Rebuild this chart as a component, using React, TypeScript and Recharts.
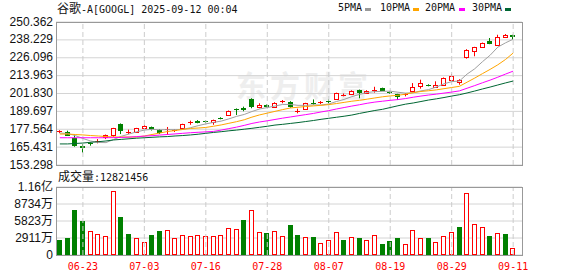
import React from "react"
import {
	ComposedChart,
	Bar,
	Line,
	XAxis,
	YAxis,
	CartesianGrid,
	ReferenceLine,
} from "recharts"

const RED = "#ff0000"
const GREEN = "#008000"
const GRID = "#d4d4d4"
const BORDER = "#999999"

const dates = [
	"06-17", "06-18", "06-20", "06-23", "06-24", "06-25", "06-26", "06-27", "06-30", "07-01",
	"07-02", "07-03", "07-07", "07-08", "07-09", "07-10", "07-11", "07-14", "07-15", "07-16",
	"07-17", "07-18", "07-21", "07-22", "07-23", "07-24", "07-25", "07-28", "07-29", "07-30",
	"07-31", "08-01", "08-04", "08-05", "08-06", "08-07", "08-08", "08-11", "08-12", "08-13",
	"08-14", "08-15", "08-18", "08-19", "08-20", "08-21", "08-22", "08-25", "08-26", "08-27",
	"08-28", "08-29", "09-02", "09-03", "09-04", "09-05", "09-08", "09-09", "09-10", "09-11",
]

const opens = [
	175.8, 175.9, 171.8, 166.4, 168.0, 168.7, 172.5, 173.7, 181.1, 174.8,
	175.9, 178.6, 178.9, 177.1, 176.9, 176.4, 178.2, 181.8, 183.4, 182.9,
	182.3, 185.2, 187.2, 191.5, 191.8, 197.9, 192.9, 194.0, 192.9, 196.1,
	196.3, 189.8, 191.3, 195.2, 195.4, 196.9, 198.1, 200.6, 201.5, 204.2,
	202.4, 203.9, 205.4, 203.0, 201.3, 200.8, 203.3, 206.7, 207.6, 206.4,
	207.8, 211.2, 209.4, 226.4, 230.9, 233.4, 237.3, 234.9, 240.5, 241.2,
]
const highs = [
	176.9, 176.6, 173.7, 167.5, 168.7, 170.9, 174.0, 178.5, 181.5, 177.3,
	178.5, 180.2, 179.4, 177.6, 179.1, 177.7, 181.3, 183.4, 183.8, 183.6,
	184.1, 185.7, 190.3, 191.7, 192.9, 198.6, 195.2, 194.4, 195.9, 197.4,
	196.6, 191.5, 195.5, 197.8, 196.7, 197.9, 202.4, 201.8, 204.0, 204.5,
	204.1, 206.4, 205.8, 203.3, 201.6, 202.0, 208.9, 211.2, 208.1, 210.1,
	212.7, 215.1, 211.5, 231.9, 233.5, 236.4, 239.5, 241.7, 242.2, 241.7,
]
const lows = [
	174.9, 173.0, 165.7, 161.6, 166.4, 168.0, 170.9, 172.5, 174.3, 174.3,
	175.5, 178.3, 176.7, 174.3, 173.7, 175.7, 177.8, 180.6, 181.6, 181.8,
	180.6, 184.3, 186.9, 187.2, 189.8, 191.8, 191.8, 192.5, 192.6, 195.2,
	192.2, 188.4, 190.9, 194.3, 194.7, 195.2, 197.9, 199.9, 201.2, 198.6,
	202.1, 202.4, 203.4, 201.7, 197.4, 199.9, 202.9, 205.1, 206.7, 206.2,
	207.5, 210.9, 207.8, 225.5, 227.1, 233.1, 235.3, 234.6, 239.5, 238.3,
]
const closes = [
	176.1, 173.2, 166.4, 165.0, 167.3, 169.6, 173.7, 178.2, 176.6, 175.9,
	178.2, 179.8, 177.5, 174.8, 177.5, 177.1, 180.9, 182.5, 182.0, 182.5,
	183.8, 184.7, 190.0, 190.6, 190.6, 192.9, 194.0, 192.9, 195.6, 196.7,
	192.5, 190.2, 195.2, 194.5, 195.9, 196.3, 202.0, 201.0, 203.7, 202.0,
	203.7, 204.5, 203.7, 202.0, 199.3, 201.3, 206.0, 208.9, 207.1, 207.6,
	212.4, 213.5, 211.2, 231.6, 233.2, 236.1, 235.6, 240.0, 241.2, 240.5,
]

const ma5 = [
	175.0, 174.7, 173.3, 171.3, 169.6, 168.6, 168.5, 170.6, 172.8, 174.3,
	175.8, 177.0, 177.5, 177.2, 177.3, 177.3, 177.5, 178.6, 180.0, 181.2,
	182.2, 183.1, 184.6, 186.3, 187.6, 189.6, 191.3, 192.3, 193.3, 194.4,
	194.4, 193.8, 193.8, 194.1, 194.0, 194.7, 196.4, 197.8, 199.7, 201.2,
	202.5, 203.1, 203.3, 203.4, 202.7, 202.1, 202.4, 203.6, 204.5, 206.2,
	208.4, 209.9, 210.3, 215.0, 218.6, 223.4, 227.8, 233.3, 236.2, 238.7,
]
const ma10 = [
	174.3, 174.3, 174.0, 173.7, 173.3, 173.0, 172.6, 172.3, 172.3, 172.3,
	172.3, 173.0, 174.0, 175.0, 176.0, 176.7, 177.4, 178.1, 178.4, 178.8,
	179.6, 180.5, 181.6, 182.7, 184.0, 185.8, 187.3, 188.5, 189.7, 190.9,
	192.0, 192.5, 193.0, 193.4, 193.8, 194.3, 195.0, 195.8, 196.6, 197.2,
	198.0, 198.8, 199.6, 200.2, 200.6, 201.4, 202.4, 203.2, 203.7, 204.3,
	205.1, 205.9, 206.7, 209.5, 212.3, 215.3, 218.2, 221.3, 224.9, 229.3,
]
const ma20 = [
	171.8, 171.8, 171.8, 171.8, 171.8, 171.8, 171.8, 171.9, 172.0, 172.2,
	172.6, 172.9, 173.2, 173.6, 174.0, 174.4, 174.8, 175.2, 175.5, 175.8,
	176.1, 177.0, 178.0, 179.0, 180.2, 181.5, 182.5, 183.3, 184.2, 185.1,
	185.9, 186.7, 187.5, 188.3, 189.3, 190.2, 191.3, 192.3, 193.3, 194.2,
	195.2, 196.0, 196.6, 197.2, 197.7, 198.4, 199.3, 200.1, 200.8, 201.4,
	202.1, 202.8, 203.6, 205.4, 207.2, 209.1, 210.9, 212.9, 215.0, 217.0,
]
const ma30 = [
	167.6, 167.6, 167.9, 168.2, 168.7, 169.1, 169.6, 170.3, 170.7, 171.1,
	171.5, 171.8, 172.1, 172.4, 172.6, 173.0, 173.3, 173.7, 174.2, 174.8,
	175.4, 175.9, 176.5, 177.0, 177.6, 178.2, 178.9, 179.6, 180.4, 180.9,
	181.5, 182.1, 182.8, 183.5, 184.3, 185.0, 185.7, 186.4, 187.2, 188.3,
	189.3, 190.3, 191.1, 192.3, 193.5, 194.6, 195.4, 196.4, 197.4, 198.2,
	199.1, 200.1, 201.0, 202.2, 203.5, 204.9, 206.2, 207.6, 209.0, 210.3,
]

// 成交量, 单位: 万
const volumes = [
	2570, 2960, 7710, 5820, 4050, 3540, 3250, 10960, 6510, 3600,
	2910, 2230, 3430, 4110, 4280, 2910, 3430, 3250, 3430, 3250,
	3250, 3430, 4680, 4450, 6000, 7710, 3880, 3710, 4050, 3250,
	5140, 3430, 3030, 3080, 2000, 2510, 3880, 2570, 3030, 2910,
	2510, 3370, 1880, 2400, 2910, 1830, 4230, 2860, 2910, 2170,
	3250, 3880, 4800, 10560, 5250, 4800, 3250, 3710, 3600, 1282.1456,
]
const volColors = "GGGGRRRRGGRRGGRRRRRRRRRRGRRGRRGGRGRRRGRGRRGGGRRRGRRRGRRRGRGR"

const tickDates = ["06-23", "07-03", "07-16", "07-28", "08-07", "08-19", "08-29", "09-11"]
const priceTicks = [153.298, 165.431, 177.564, 189.697, 201.83, 213.963, 226.096, 238.229, 250.362]
const volTicks = [0, 2911, 5823, 8734, 11646]

const legendItems = [
	{ name: "5PMA", color: "#999999", x: 338, sw: 365 },
	{ name: "10PMA", color: "#ffa500", x: 380, sw: 413 },
	{ name: "20PMA", color: "#ff00ff", x: 425, sw: 459 },
	{ name: "30PMA", color: "#006633", x: 472, sw: 505 },
]

const data = dates.map((date, i) => ({
	date,
	open: opens[i],
	high: highs[i],
	low: lows[i],
	close: closes[i],
	range: [lows[i], highs[i]],
	ma5: ma5[i],
	ma10: ma10[i],
	ma20: ma20[i],
	ma30: ma30[i],
	vol: volumes[i],
	volUp: volColors[i] === "R",
}))

const MONO = "'DejaVu Sans Mono', monospace"
const CJK = "'Noto Sans CJK SC', sans-serif"
const SANS = "'Liberation Sans', 'Noto Sans CJK SC', sans-serif"

const Candle = (props: any) => {
	const { x, y, width, height, payload } = props
	if (x == null || y == null || !payload) return null
	const { open, close, high, low } = payload
	const top = Math.min(y, y + height)
	const h = Math.abs(height)
	const k = high > low ? h / (high - low) : 0
	const py = (v: number) => top + (high - v) * k
	const up = close >= open
	const left = Math.round(x + width / 2 - 2.5)
	const cx = left + 2.5
	const bTop = Math.round(py(Math.max(open, close)))
	const bBot = Math.round(py(Math.min(open, close)))
	const bh = Math.max(bBot - bTop, 1)
	if (up) {
		return (
			<g>
				<line x1={cx} x2={cx} y1={top} y2={bTop} stroke={RED} />
				<line x1={cx} x2={cx} y1={bTop + bh} y2={top + h} stroke={RED} />
				{bh <= 1 ? (
					<line x1={left} x2={left + 5} y1={bTop + 0.5} y2={bTop + 0.5} stroke={RED} />
				) : (
					<rect x={left + 0.5} y={bTop + 0.5} width={4} height={bh} fill="#fff" stroke={RED} />
				)}
			</g>
		)
	}
	return (
		<g>
			<line x1={cx} x2={cx} y1={top} y2={top + h} stroke={GREEN} />
			<rect x={left} y={bTop} width={5} height={Math.max(bh, 1)} fill={GREEN} />
		</g>
	)
}

const VolBar = (props: any) => {
	const { x, y, width, height, payload } = props
	if (x == null || y == null || !payload) return null
	const top = Math.round(Math.min(y, y + height))
	const h = Math.round(Math.abs(height))
	const left = Math.round(x + width / 2 - 2.5)
	if (payload.volUp) {
		return (
			<rect x={left + 0.5} y={top + 0.5} width={4} height={Math.max(h - 1, 0)} fill="#fff" stroke={RED} />
		)
	}
	return <rect x={left} y={top} width={5} height={h} fill={GREEN} />
}

const PriceTick = (props: any) => {
	const { y, payload } = props
	return (
		<text x={53} y={y} dy={3.5} textAnchor="end" fontSize={12} fontFamily={SANS} fill="#111">
			{payload.value.toFixed(3)}
		</text>
	)
}

const fmtVol = (v: number) => {
	if (v >= 10000) return (v / 10000).toFixed(2) + "亿"
	if (v === 0) return "0"
	return v + "万"
}

const VolTick = (props: any) => {
	const { y, payload } = props
	return (
		<text x={53} y={y} dy={4} textAnchor="end" fontSize={12} fontFamily={SANS} fill="#111">
			{fmtVol(payload.value)}
		</text>
	)
}

const DateTick = (props: any) => {
	const { x, payload } = props
	return (
		<text x={x} y={104} textAnchor="middle" fontSize={10} fontFamily={MONO} fill={RED}>
			{payload.value}
		</text>
	)
}

const App: React.FC = () => {
	const last = volumes[volumes.length - 1]
	return (
		<div
			style={{
				position: "fixed",
				left: 0,
				top: 0,
				width: 578,
				height: 276,
				background: "#fff",
				overflow: "hidden",
			}}
		>
			{/* watermark */}
			<div
				style={{
					position: "absolute",
					left: 236,
					top: 66,
					fontFamily: CJK,
					fontSize: 30,
					fontWeight: 700,
					letterSpacing: 4,
					color: "#eeeeee",
					lineHeight: "36px",
				}}
			>
				东方财富
			</div>

			<div
				style={{
					position: "absolute",
					left: 57,
					top: 2,
					fontSize: 10,
					lineHeight: "12px",
					color: "#111",
					whiteSpace: "nowrap",
				}}
			>
				<span style={{ fontFamily: CJK, fontSize: 12 }}>谷歌</span>
				<span style={{ fontFamily: MONO }}>-A[GOOGL] 2025-09-12 00:04</span>
			</div>

			{legendItems.map((it) => (
				<React.Fragment key={it.name}>
					<div
						style={{
							position: "absolute",
							left: it.x,
							top: 2,
							fontFamily: MONO,
							fontSize: 10,
							lineHeight: "12px",
							color: "#111",
						}}
					>
						{it.name}
					</div>
					<div
						style={{
							position: "absolute",
							left: it.sw,
							top: 8,
							width: 6,
							height: 3,
							background: it.color,
						}}
					/>
				</React.Fragment>
			))}

			<div
				style={{
					position: "absolute",
					left: 58,
					top: 170,
					fontSize: 10,
					lineHeight: "12px",
					color: "#111",
					whiteSpace: "nowrap",
				}}
			>
				<span style={{ fontFamily: CJK, fontSize: 12 }}>成交量</span>
				<span style={{ fontFamily: MONO }}>:{Math.round(last * 10000)}</span>
			</div>

			<div style={{ position: "absolute", left: 0, top: 166 }}>
				<ComposedChart
					width={578}
					height={110}
					data={data}
					margin={{ top: 21, right: 56, bottom: 0, left: 0 }}
				>
					<CartesianGrid vertical={false} stroke={GRID} />
					<XAxis
						dataKey="date"
						ticks={tickDates}
						interval={0}
						height={21}
						padding={{ left: 0, right: 5 }}
						axisLine={false}
						tickLine={false}
						tick={<DateTick />}
					/>
					<YAxis
						domain={[0, 11646]}
						ticks={volTicks}
						interval={0}
						width={56}
						axisLine={false}
						tickLine={false}
						tick={<VolTick />}
						allowDataOverflow
					/>
					{tickDates.map((d) => (
						<ReferenceLine key={d} x={d} stroke="#cccccc" strokeDasharray="5 3" />
					))}
					<Bar dataKey="vol" barSize={5} shape={<VolBar />} isAnimationActive={false} />
				</ComposedChart>
			</div>

			<div
				style={{
					position: "absolute",
					left: 56,
					top: 187,
					width: 467,
					height: 69,
					border: `1px solid ${BORDER}`,
					boxSizing: "border-box",
					pointerEvents: "none",
				}}
			/>

			<div style={{ position: "absolute", left: 0, top: 0 }}>
				<ComposedChart
					width={578}
					height={176}
					data={data}
					margin={{ top: 22, right: 56, bottom: 11, left: 0 }}
				>
					<CartesianGrid vertical={false} stroke={GRID} />
					<XAxis dataKey="date" hide padding={{ left: 0, right: 5 }} />
					<YAxis
						domain={[153.298, 250.362]}
						ticks={priceTicks}
						interval={0}
						width={56}
						axisLine={false}
						tickLine={false}
						tick={<PriceTick />}
						allowDataOverflow
					/>
					{tickDates.map((d) => (
						<ReferenceLine key={d} x={d} stroke="#cccccc" strokeDasharray="5 3" />
					))}
					<Bar dataKey="range" barSize={5} shape={<Candle />} isAnimationActive={false} />
					<Line type="linear" dataKey="ma5" stroke="#a0a0a0" strokeWidth={1} dot={false} isAnimationActive={false} />
					<Line type="linear" dataKey="ma10" stroke="#ffa500" strokeWidth={1} dot={false} isAnimationActive={false} />
					<Line type="linear" dataKey="ma20" stroke="#ff00ff" strokeWidth={1} dot={false} isAnimationActive={false} />
					<Line type="linear" dataKey="ma30" stroke="#006633" strokeWidth={1} dot={false} isAnimationActive={false} />
				</ComposedChart>
			</div>

			<div
				style={{
					position: "absolute",
					left: 56,
					top: 22,
					width: 467,
					height: 144,
					border: `1px solid ${BORDER}`,
					boxSizing: "border-box",
					pointerEvents: "none",
				}}
			/>
		</div>
	)
}

export default App
